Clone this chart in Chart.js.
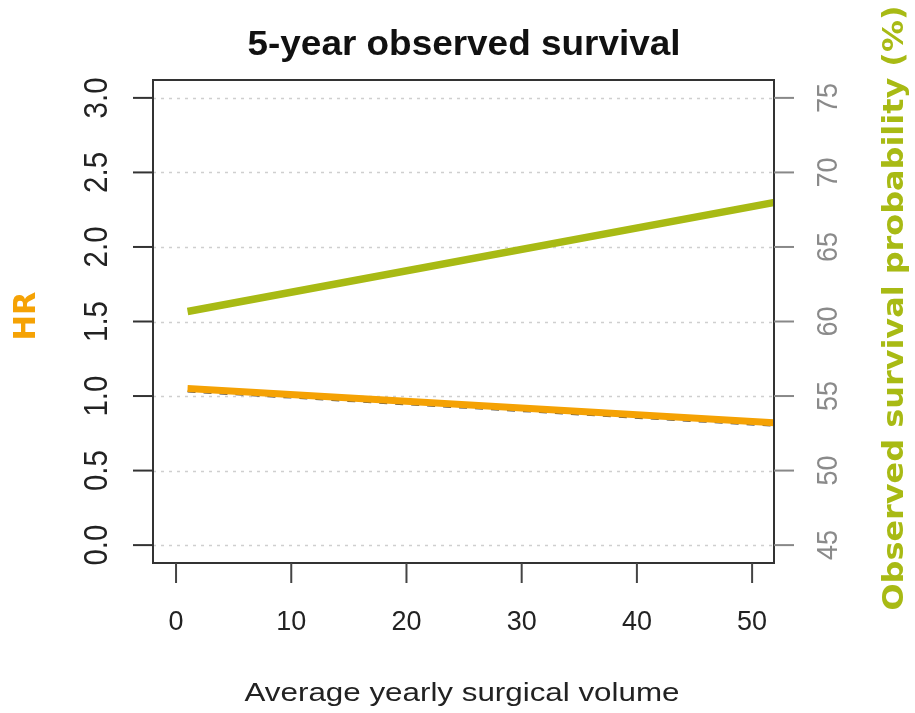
<!DOCTYPE html>
<html>
<head>
<meta charset="utf-8">
<script src="https://cdn.jsdelivr.net/npm/chart.js@4"></script>
<style>
  html, body { margin: 0; padding: 0; background: #fff; }
  #wrap { width: 915px; height: 713px; }
</style>
</head>
<body>
<div id="wrap"><canvas id="chart"></canvas></div>
<script>
// data
const volume = [1, 52];
const hr = [1.05, 0.82];
const hrDashed = [1.03, 0.8];
const survival = [60.67, 68.0];

const hrTicks = [0, 0.5, 1, 1.5, 2, 2.5, 3];
const hrTickLabels = ["0.0", "0.5", "1.0", "1.5", "2.0", "2.5", "3.0"];
const survTicks = [45, 50, 55, 60, 65, 70, 75];
const volumeTicks = [0, 10, 20, 30, 40, 50];

const ORANGE = "#F5A204";
const GREEN = "#A8BA14";

const pts = (xs, ys) => xs.map((x, i) => ({ x: x, y: ys[i] }));

// draws text stretched to a given length along its direction
const fitText = (ctx, text, cx, cy, font, len, rot, color) => {
  ctx.save();
  ctx.font = font;
  ctx.fillStyle = color;
  ctx.textAlign = "center";
  ctx.textBaseline = "middle";
  const w = ctx.measureText(text).width;
  ctx.translate(cx, cy);
  ctx.rotate(rot);
  ctx.scale(len / w, 1);
  ctx.fillText(text, 0, 0);
  ctx.restore();
};

const rPlot = {
  id: "rPlot",
  beforeDatasetsDraw(chart) {
    const { ctx, chartArea, scales } = chart;
    ctx.save();
    ctx.strokeStyle = "#cfcfcf";
    ctx.lineWidth = 1.5;
    ctx.setLineDash([3, 5]);
    hrTicks.forEach(v => {
      const y = Math.round(scales.y.getPixelForValue(v)) + 0.5;
      ctx.beginPath();
      ctx.moveTo(chartArea.left, y);
      ctx.lineTo(chartArea.right, y);
      ctx.stroke();
    });
    ctx.restore();
  },
  afterDraw(chart) {
    const { ctx, chartArea, scales } = chart;
    const a = chartArea;
    ctx.save();
    // box
    ctx.strokeStyle = "#333";
    ctx.lineWidth = 2;
    ctx.strokeRect(a.left, a.top, a.right - a.left, a.bottom - a.top);

    // left axis
    hrTicks.forEach((v, i) => {
      const y = scales.y.getPixelForValue(v);
      ctx.beginPath();
      ctx.moveTo(a.left - 20, y);
      ctx.lineTo(a.left, y);
      ctx.stroke();
      fitText(ctx, hrTickLabels[i], 98, y, "33px 'Liberation Sans', Arial", 41, -Math.PI / 2, "#222");
    });

    // right axis
    ctx.strokeStyle = "#888";
    survTicks.forEach(v => {
      const y = scales.y2.getPixelForValue(v);
      ctx.beginPath();
      ctx.moveTo(a.right, y);
      ctx.lineTo(a.right + 20, y);
      ctx.stroke();
      fitText(ctx, String(v), 829, y, "30px 'Liberation Sans', Arial", 30, -Math.PI / 2, "#8a8a8a");
    });

    // bottom axis
    ctx.strokeStyle = "#444";
    volumeTicks.forEach(v => {
      const x = scales.x.getPixelForValue(v);
      ctx.beginPath();
      ctx.moveTo(x, a.bottom);
      ctx.lineTo(x, a.bottom + 20);
      ctx.stroke();
      const s = String(v);
      fitText(ctx, s, x, 622, "28px 'Liberation Sans', Arial", s.length * 15, 0, "#222");
    });

    // titles
    fitText(ctx, "5-year observed survival", 464, 45, "bold 35px 'Liberation Sans', Arial", 433, 0, "#111");
    fitText(ctx, "Average yearly surgical volume", 462, 694, "25px 'Liberation Sans', Arial", 435, 0, "#222");
    fitText(ctx, "HR", 27, 316, "bold 30px 'DejaVu Sans', Verdana", 49, -Math.PI / 2, ORANGE);
    fitText(ctx, "Observed survival probability (%)", 895, 308, "bold 29px 'DejaVu Sans', Verdana", 605, -Math.PI / 2, GREEN);
    ctx.restore();
  }
};

new Chart(document.getElementById("chart"), {
  type: "line",
  data: {
    datasets: [
      {
        label: "HR",
        data: pts(volume, hr),
        borderColor: ORANGE,
        borderWidth: 7,
        borderCapStyle: "butt",
        pointRadius: 0,
        yAxisID: "y",
        order: 0
      },
      {
        label: "HR (dashed)",
        data: pts(volume, hrDashed),
        borderColor: "#555",
        borderWidth: 2,
        borderDash: [8, 8],
        pointRadius: 0,
        yAxisID: "y",
        order: 2
      },
      {
        label: "Observed survival probability (%)",
        data: pts(volume, survival),
        borderColor: GREEN,
        borderWidth: 7.5,
        borderCapStyle: "butt",
        pointRadius: 0,
        yAxisID: "y2",
        order: 0
      }
    ]
  },
  options: {
    responsive: true,
    maintainAspectRatio: false,
    animation: false,
    layout: { padding: { left: 153, right: 141, top: 80, bottom: 150 } },
    plugins: { legend: { display: false }, tooltip: { enabled: false } },
    scales: {
      x: { type: "linear", min: -2, max: 51.9, display: false },
      y: { type: "linear", position: "left", min: -0.12, max: 3.12, display: false },
      y2: { type: "linear", position: "right", min: 43.8, max: 76.2, display: false }
    }
  },
  plugins: [rPlot]
});
</script>
</body>
</html>
